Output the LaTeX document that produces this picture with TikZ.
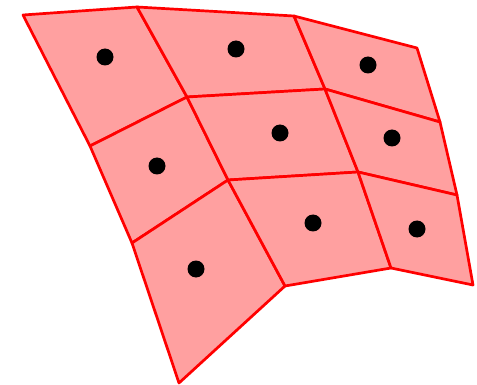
\documentclass[tikz,border=0pt]{standalone}
\begin{document}
\begin{tikzpicture}[x=1pt,y=-1pt,
  cell/.style={draw={rgb,255:red,255;green,0;blue,0},fill={rgb,255:red,255;green,160;blue,160},line width=2.7pt,line join=round},
  dot/.style={circle,fill=black,inner sep=0pt,minimum size=17pt}]
\useasboundingbox (0,0) rectangle (477,385);
% grid vertices v<row><col>
\coordinate (v00) at (23,15);
\coordinate (v01) at (137,7);
\coordinate (v02) at (294,16);
\coordinate (v03) at (417,48);
\coordinate (v10) at (90,146);
\coordinate (v11) at (187,97);
\coordinate (v12) at (325,89);
\coordinate (v13) at (440,122);
\coordinate (v20) at (132,243);
\coordinate (v21) at (228,180);
\coordinate (v22) at (358,172);
\coordinate (v23) at (457,195);
\coordinate (v30) at (179,383);
\coordinate (v31) at (285,286);
\coordinate (v32) at (391,268);
\coordinate (v33) at (473,285);
% cells
\foreach \r/\s in {0/1,1/2,2/3}{
  \foreach \c/\d in {0/1,1/2,2/3}{
    \filldraw[cell] (v\r\c) -- (v\r\d) -- (v\s\d) -- (v\s\c) -- cycle;
  }
}
% dots
\node[dot] (d00) at (105,57) {};
\node[dot] (d01) at (236,49) {};
\node[dot] (d02) at (368,65) {};
\node[dot] (d10) at (157,166) {};
\node[dot] (d11) at (280,133) {};
\node[dot] (d12) at (392,138) {};
\node[dot] (d20) at (196,269) {};
\node[dot] (d21) at (313,223) {};
\node[dot] (d22) at (417,229) {};
\end{tikzpicture}
\end{document}
